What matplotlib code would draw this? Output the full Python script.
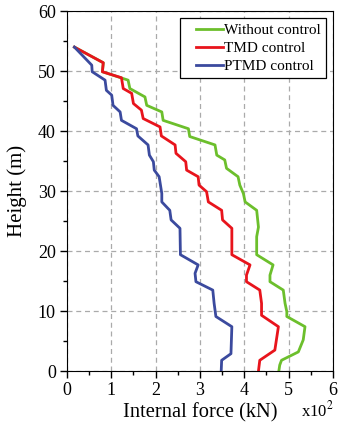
import matplotlib
matplotlib.use("Agg")
import matplotlib.pyplot as plt
from matplotlib.ticker import MultipleLocator
from matplotlib.legend_handler import HandlerLine2D

plt.rcParams['font.family'] = ['Liberation Serif', 'DejaVu Serif']
plt.rcParams['mathtext.fontset'] = 'stix'

# internal force (x100 kN) against height (m)
green_h = [54, 51.4, 49.9, 48.5, 47.1, 45.7, 44.3, 43.2, 41.8, 40.4, 39.1, 37.7, 36.0, 35.2,
           33.8, 32.4, 31.0, 29.6, 28.2, 26.8, 24.0, 22.4, 19.4, 17.7, 16.0, 14.9, 13.5,
           11.3, 9.9, 9.1, 7.4, 5.2, 3.2, 1.8, 1.0, 0]
green_x = [0.17, 0.82, 0.80, 1.38, 1.42, 1.76, 1.80, 2.14, 2.17, 2.74, 2.77, 3.34, 3.38, 3.56,
           3.60, 3.86, 3.90, 3.98, 4.02, 4.28, 4.32, 4.28, 4.28, 4.65, 4.58, 4.58, 4.88,
           4.92, 4.96, 4.96, 5.37, 5.33, 5.22, 4.84, 4.80, 4.78]

red_h = [54, 51.4, 49.9, 48.9, 47.1, 46.3, 44.6, 43.5, 42.1, 40.7, 39.2, 37.7, 36.3, 34.9,
         33.5, 32.4, 31.0, 29.9, 28.2, 26.8, 25.2, 23.8, 19.4, 17.7, 16.0, 14.9, 13.5, 11.3,
         9.3, 7.4, 3.5, 1.8, 0]
red_x = [0.17, 0.82, 0.80, 1.23, 1.27, 1.46, 1.50, 1.68, 1.72, 2.10, 2.13, 2.44, 2.46, 2.68,
         2.70, 2.96, 2.98, 3.15, 3.19, 3.49, 3.51, 3.72, 3.72, 4.13, 4.05, 4.05, 4.35, 4.39,
         4.39, 4.77, 4.69, 4.35, 4.32]

blue_h = [54, 51.0, 49.9, 48.5, 46.8, 46.0, 44.3, 43.2, 41.8, 40.4, 39.2, 37.7, 36.0, 34.9,
          33.5, 32.4, 29.6, 28.2, 26.8, 25.2, 23.8, 19.4, 17.7, 16.3, 14.9, 13.5, 11.3, 9.1,
          7.4, 2.9, 1.8, 0]
blue_x = [0.17, 0.56, 0.57, 0.86, 0.89, 1.01, 1.04, 1.20, 1.23, 1.57, 1.60, 1.83, 1.86, 1.95,
          1.97, 2.08, 2.14, 2.14, 2.32, 2.35, 2.55, 2.56, 2.96, 2.89, 2.91, 3.29, 3.32, 3.36,
          3.72, 3.70, 3.49, 3.48]

labels = ["Without control", "TMD control", "PTMD control"]

fig = plt.figure(figsize=(3.38, 4.29), dpi=100)
ax = fig.add_axes([0.198, 0.135, 0.787, 0.839])

ax.plot(green_x, green_h, color="#6cbf2c", lw=2, label=labels[0])
ax.plot(red_x, red_h, color="#e8141c", lw=2, label=labels[1])
ax.plot(blue_x, blue_h, color="#3b4a9e", lw=2, label=labels[2])

ax.set_xlim(0, 6)
ax.set_ylim(0, 60)
ax.xaxis.set_major_locator(MultipleLocator(1))
ax.xaxis.set_minor_locator(MultipleLocator(0.5))
ax.yaxis.set_major_locator(MultipleLocator(10))
ax.yaxis.set_minor_locator(MultipleLocator(5))
ax.tick_params(which="major", direction="out", length=5, width=1, labelsize=13,
               top=False, right=False, pad=3)
ax.tick_params(which="minor", direction="out", length=3, width=1, top=False, right=False)
ax.grid(True, which="major", linestyle=(0, (4, 3)), color="#aaaaaa", lw=0.9)

ax.set_xlabel("Internal force (kN)", fontsize=14.8, labelpad=3)
ax.set_ylabel("Height (m)", fontsize=15)
ax.yaxis.set_label_coords(-0.15, 0.5)
fig.text(0.89, 0.03, "x10$^2$", fontsize=12, ha="left", va="baseline")

hmap = {ln: HandlerLine2D(xpad=0.7) for ln in ax.get_lines()}
leg = ax.legend(loc="upper right", fontsize=11, frameon=True, fancybox=False,
                edgecolor="black", framealpha=1, handlelength=2.5, handletextpad=0.05,
                borderpad=0.35, labelspacing=0.28, borderaxespad=0.45, handler_map=hmap)
leg.get_frame().set_linewidth(0.9)

fig.savefig("out.png", dpi=100)
